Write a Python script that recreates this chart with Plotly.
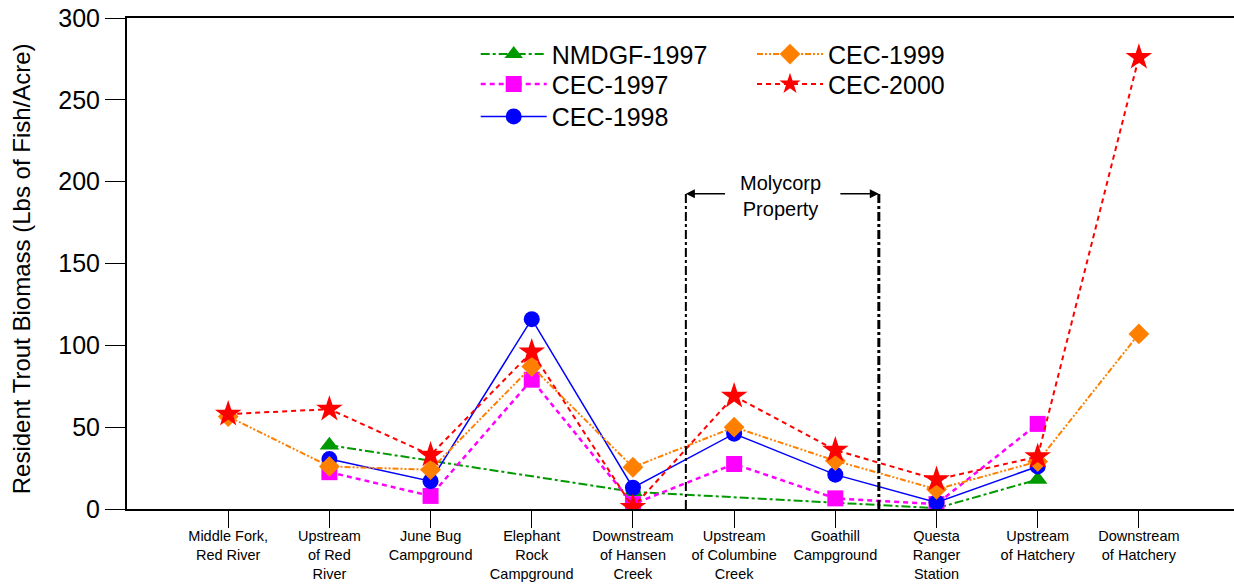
import plotly.graph_objects as go

sites = [
    "Middle Fork,<br>Red River",
    "Upstream<br>of Red<br>River",
    "June Bug<br>Campground",
    "Elephant<br>Rock<br>Campground",
    "Downstream<br>of Hansen<br>Creek",
    "Upstream<br>of Columbine<br>Creek",
    "Goathill<br>Campground",
    "Questa<br>Ranger<br>Station",
    "Upstream<br>of Hatchery",
    "Downstream<br>of Hatchery",
]

nmdgf_1997 = [None, 39, None, None, 10.5, None, None, 0.5, 18, None]
cec_1997 = [None, 22.5, 8, 79, 3, 27.5, 6.5, 3, 52, None]
cec_1998 = [None, 30.5, 17, 116, 13, 46, 21, 4, 26, None]
cec_1999 = [56.5, 26, 24, 87, 25.5, 50, 29.5, 12, 29, 107]
cec_2000 = [58, 61, 33, 96, 1, 69, 36, 18, 32, 276]

FONT = "Liberation Sans, Arial, sans-serif"

fig = go.Figure()

series = [
    ("NMDGF-1997", nmdgf_1997, "#009900", "triangle-up", 17, "dashdot", 2, "legend"),
    ("CEC-1997", cec_1997, "#FF00FF", "square", 16, "5px,4px", 2.5, "legend2"),
    ("CEC-1998", cec_1998, "#0000FF", "circle", 16, "solid", 1.5, "legend3"),
    ("CEC-1999", cec_1999, "#FF8000", "diamond", 16, "6px,2px,2px,2px,2px,2px", 2, "legend4"),
    ("CEC-2000", cec_2000, "#FF0000", "star", 20, "5px,4px", 2, "legend5"),
]

for name, vals, color, sym, size, dash, width, leg in series:
    fig.add_trace(go.Scatter(
        x=sites, y=vals, name=name, mode="lines+markers",
        connectgaps=True,
        line=dict(color=color, dash=dash, width=width),
        marker=dict(symbol=sym, size=size, color=color, line=dict(width=0)),
        legend=leg,
    ))

# Molycorp property boundaries
left_b, right_b, top_b = 4.523, 6.43, 192.6
fig.add_shape(type="line", xref="x", yref="y", x0=left_b, x1=left_b, y0=0, y1=top_b,
              line=dict(color="black", width=2, dash="dashdot"))
fig.add_shape(type="line", xref="x", yref="y", x0=right_b, x1=right_b, y0=0, y1=top_b,
              line=dict(color="black", width=3, dash="dashdot"))
fig.add_annotation(x=left_b, y=top_b, ax=4.925, ay=top_b, xref="x", yref="y",
                   axref="x", ayref="y", text="", showarrow=True,
                   arrowhead=2, arrowsize=1.2, arrowwidth=1.5, arrowcolor="black")
fig.add_annotation(x=right_b, y=top_b, ax=6.035, ay=top_b, xref="x", yref="y",
                   axref="x", ayref="y", text="", showarrow=True,
                   arrowhead=2, arrowsize=1.2, arrowwidth=1.5, arrowcolor="black")
fig.add_annotation(x=5.46, y=top_b - 1.5, xref="x", yref="y", text="Molycorp<br>Property",
                   showarrow=False, font=dict(family=FONT, size=20, color="black"),
                   xanchor="center", yanchor="middle")

# y-axis title
fig.add_annotation(x=-0.095, y=0.49, xref="paper", yref="paper",
                   text="Resident Trout Biomass (Lbs of Fish/Acre)", textangle=-90,
                   showarrow=False, font=dict(family=FONT, size=24, color="black"),
                   xanchor="center", yanchor="middle")

legend_common = dict(
    bgcolor="rgba(0,0,0,0)", borderwidth=0,
    font=dict(family=FONT, size=25, color="black"),
    itemwidth=66, xanchor="left", yanchor="middle", orientation="v",
)
col1, col2 = 0.315, 0.5646
row1, row2, row3 = 0.926, 0.865, 0.799

fig.update_layout(
    width=1234, height=584,
    margin=dict(l=127, r=0, t=18, b=75),
    paper_bgcolor="white", plot_bgcolor="white",
    font=dict(family=FONT, color="black"),
    showlegend=True,
    legend=dict(x=col1, y=row1, **legend_common),
    legend2=dict(x=col1, y=row2, **legend_common),
    legend3=dict(x=col1, y=row3, **legend_common),
    legend4=dict(x=col2, y=row1, **legend_common),
    legend5=dict(x=col2, y=row2, **legend_common),
    xaxis=dict(
        type="category", range=[-1.0, 9.94], automargin=False,
        showline=True, linecolor="black", linewidth=2, mirror=True,
        ticks="outside", ticklen=17, tickcolor="black", tickwidth=1,
        ticklabelstandoff=-4,
        tickfont=dict(family=FONT, size=14.5, color="black"),
        showgrid=False, zeroline=False, tickangle=0,
    ),
    yaxis=dict(
        range=[0, 300], tickvals=[0, 50, 100, 150, 200, 250, 300], automargin=False,
        showline=True, linecolor="black", linewidth=2, mirror=False,
        ticks="outside", ticklen=20, tickcolor="black", tickwidth=1,
        tickfont=dict(family=FONT, size=25, color="black"),
        showgrid=False, zeroline=False,
    ),
)

fig.write_html("out.html")
